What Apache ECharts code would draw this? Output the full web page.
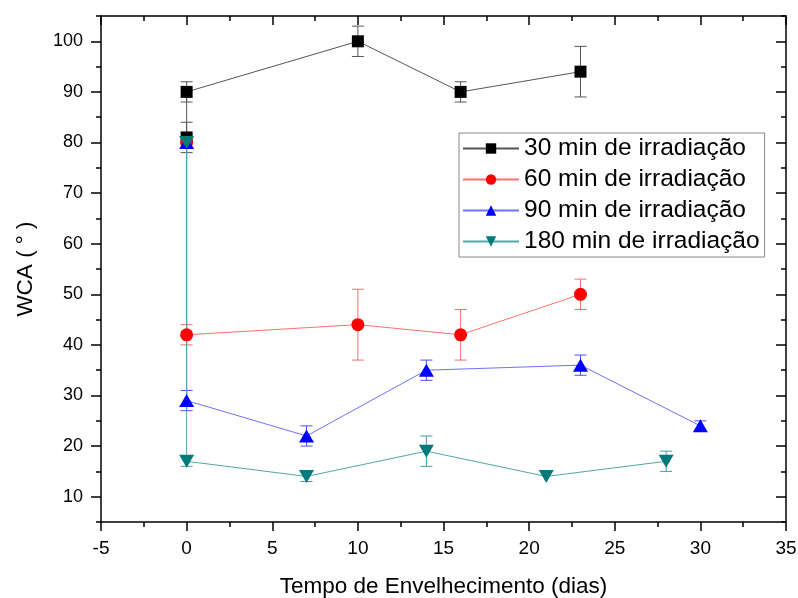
<!DOCTYPE html>
<html>
<head>
<meta charset="utf-8">
<script src="https://cdn.jsdelivr.net/npm/echarts@6/dist/echarts.min.js"></script>
<style>
  html, body { margin: 0; padding: 0; background: #fff; }
  #chart { width: 798px; height: 598px; }
</style>
</head>
<body>
<div id="chart"></div>
<script>
// dados
var names = ['30 min de irradiação', '60 min de irradiação', '90 min de irradiação', '180 min de irradiação'];

var x30 = [0, 0, 10, 16, 23];
var y30 = [81, 90, 100, 90, 94];
var e30 = [3, 2, 3, 2, 5];

var x60 = [0, 0, 10, 16, 23];
var y60 = [80, 42, 44, 42, 50];
var e60 = [0, 2, 7, 5, 3];

var x90 = [0, 0, 7, 14, 23, 30];
var y90 = [80, 29, 22, 35, 36, 24];
var e90 = [0, 2, 2, 2, 2, 1];

var x180 = [0, 0, 7, 14, 21, 28];
var y180 = [80, 17, 14, 19, 14, 17];
var e180 = [0, 1, 1, 3, 0, 2];

var yMajor = [10, 20, 30, 40, 50, 60, 70, 80, 90, 100];
var yMinor = [5, 15, 25, 35, 45, 55, 65, 75, 85, 95, 105];

var lineColors = ['#555555', '#ff7070', '#7070ff', '#50a8a8'];
var markColors = ['#000000', '#ff0000', '#0000ff', '#007a7a'];
var errColors = ['#555555', '#f07070', '#5050f0', '#40a0a0'];
var symbols = ['rect', 'circle', 'triangle', 'path://M0,0 L10,0 L5,9 Z'];
var sizes = [12, 13, [15, 13], [15, 13]];

var init_chart = function () {
    var myChart = echarts.init(document.getElementById('chart'));
    var xs = [x30, x60, x90, x180];
    var ys = [y30, y60, y90, y180];
    var es = [e30, e60, e90, e180];

    var series = [];
    // barras de erro
    for (var i = 0; i < 4; i++) {
        var d = [];
        for (var j = 0; j < xs[i].length; j++) {
            if (es[i][j] > 0) d.push([xs[i][j], ys[i][j], es[i][j]]);
        }
        (function (col) {
            series.push({
                type: 'custom',
                silent: true,
                z: 1,
                encode: { x: 0, y: 1 },
                data: d,
                renderItem: function (params, api) {
                    var x = api.value(0), y = api.value(1), e = api.value(2);
                    var top = api.coord([x, y + e]);
                    var bot = api.coord([x, y - e]);
                    var st = { stroke: col, lineWidth: 1 };
                    return {
                        type: 'group',
                        children: [
                            { type: 'line', shape: { x1: top[0], y1: top[1], x2: bot[0], y2: bot[1] }, style: st },
                            { type: 'line', shape: { x1: top[0] - 6, y1: top[1], x2: top[0] + 6, y2: top[1] }, style: st },
                            { type: 'line', shape: { x1: bot[0] - 6, y1: bot[1], x2: bot[0] + 6, y2: bot[1] }, style: st }
                        ]
                    };
                }
            });
        })(errColors[i]);
    }
    for (var k = 0; k < 4; k++) {
        var pts = [];
        for (var m = 0; m < xs[k].length; m++) pts.push([xs[k][m], ys[k][m]]);
        series.push({
            name: names[k],
            type: 'line',
            z: 3,
            data: pts,
            symbol: symbols[k],
            symbolSize: sizes[k],
            showAllSymbol: true,
            lineStyle: { color: lineColors[k], width: 1 },
            itemStyle: { color: markColors[k] }
        });
    }

    var font = 'Liberation Sans, Arial';
    var axLine = { onZero: false, lineStyle: { color: '#000', width: 1.5 } };
    var option = {
        animation: false,
        backgroundColor: '#ffffff',
        grid: { left: 101, right: 12, top: 16, bottom: 76, outerBoundsMode: 'none', containLabel: false },
        legend: {
            data: names,
            orient: 'vertical',
            left: 459,
            top: 133,
            padding: [3, 5, 3, 3],
            itemGap: 6,
            itemWidth: 56,
            itemHeight: 13,
            borderColor: '#888',
            borderWidth: 1,
            textStyle: { fontFamily: font, fontSize: 24.5, color: '#000' }
        },
        xAxis: [{
            type: 'value',
            min: -5,
            max: 35,
            interval: 5,
            name: 'Tempo de Envelhecimento (dias)',
            nameLocation: 'middle',
            nameGap: 53,
            nameTextStyle: { fontFamily: font, fontSize: 22.5, color: '#000' },
            axisLine: axLine,
            axisTick: { inside: false, length: 9, lineStyle: { color: '#000', width: 1.5 } },
            minorTick: { show: true, splitNumber: 2, length: 5, lineStyle: { color: '#000', width: 1.5 } },
            axisLabel: { margin: 17, fontFamily: font, fontSize: 19, color: '#000' },
            splitLine: { show: false }
        }, {
            type: 'value',
            position: 'top',
            min: -5,
            max: 35,
            interval: 5,
            axisLine: axLine,
            axisTick: { inside: true, length: 9, lineStyle: { color: '#000', width: 1.5 } },
            minorTick: { show: true, splitNumber: 2, length: 5, lineStyle: { color: '#000', width: 1.5 } },
            axisLabel: { show: false },
            splitLine: { show: false }
        }],
        yAxis: [{
            type: 'value',
            min: 5,
            max: 105,
            name: 'WCA ( ° )',
            nameLocation: 'middle',
            nameGap: 64,
            nameTextStyle: { fontFamily: font, fontSize: 22.5, color: '#000' },
            axisLine: axLine,
            axisTick: { inside: false, length: 10, customValues: yMajor, lineStyle: { color: '#000', width: 1.5 } },
            axisLabel: { margin: 18, customValues: yMajor, fontFamily: font, fontSize: 18, color: '#000' },
            splitLine: { show: false }
        }, {
            type: 'value',
            position: 'left',
            min: 5,
            max: 105,
            axisLine: { show: false, onZero: false },
            axisTick: { inside: false, length: 5, customValues: yMinor, lineStyle: { color: '#000', width: 1.5 } },
            axisLabel: { show: false },
            splitLine: { show: false }
        }, {
            type: 'value',
            position: 'right',
            min: 5,
            max: 105,
            axisLine: axLine,
            axisTick: { inside: true, length: 10, customValues: yMajor, lineStyle: { color: '#000', width: 1.5 } },
            axisLabel: { show: false },
            splitLine: { show: false }
        }, {
            type: 'value',
            position: 'right',
            min: 5,
            max: 105,
            axisLine: { show: false, onZero: false },
            axisTick: { inside: true, length: 5, customValues: yMinor, lineStyle: { color: '#000', width: 1.5 } },
            axisLabel: { show: false },
            splitLine: { show: false }
        }],
        series: series
    };
    myChart.setOption(option);
};

init_chart();
</script>
</body>
</html>
